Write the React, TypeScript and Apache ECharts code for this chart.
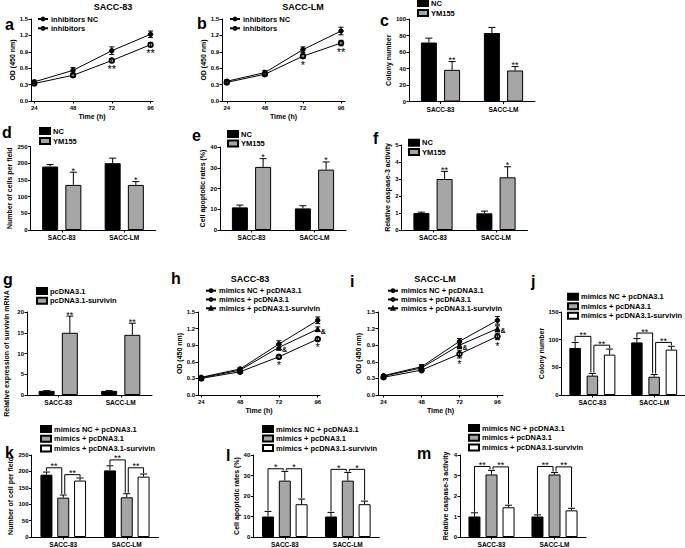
import { useEffect, useRef } from 'react';
import * as echarts from 'echarts';

const FONT = '"Liberation Sans", Arial, Helvetica, sans-serif';

// ---------- shared ----------
const timePoints = [24, 48, 72, 96];
const barCategories = ['SACC-83', 'SACC-LM'];

// ---------- a (SACC-83, inhibitors) ----------
const aNC = [0.35, 0.56, 0.92, 1.22];
const aNCErr = [0.03, 0.05, 0.07, 0.06];
const aInh = [0.32, 0.47, 0.74, 1.03];
const aInhErr = [0.03, 0.03, 0.04, 0.04];
const aInhMarks = ['', '', '**', '**'];

// ---------- b (SACC-LM, inhibitors) ----------
const bNC = [0.36, 0.52, 0.94, 1.28];
const bNCErr = [0.03, 0.04, 0.05, 0.07];
const bInh = [0.34, 0.49, 0.82, 1.06];
const bInhErr = [0.03, 0.03, 0.04, 0.05];
const bInhMarks = ['', '', '*', '**'];

// ---------- c colony number ----------
const cNC = [71.5, 83];
const cNCErr = [5.3, 6.8];
const cYM = [38.4, 37.6];
const cYMErr = [10, 4.8];
const cMarks = ['**', '**'];

// ---------- d cells per field ----------
const dNC = [190, 200];
const dNCErr = [6, 15];
const dYM = [135, 135];
const dYMErr = [38, 10];
const dMarks = ['*', '*'];

// ---------- e apoptotic rates ----------
const eNC = [10.9, 10.4];
const eNCErr = [1.1, 1.3];
const eYM = [30.4, 29.1];
const eYMErr = [4, 3.7];
const eMarks = ['*', '*'];

// ---------- f caspase-3 ----------
const fNC = [1.0, 0.98];
const fNCErr = [0.05, 0.13];
const fYM = [3.0, 3.1];
const fYMErr = [0.45, 0.62];
const fMarks = ['**', '*'];

// ---------- g survivin mRNA ----------
const gCtrl = [1, 1];
const gCtrlErr = [0.05, 0.05];
const gSurv = [15, 14.5];
const gSurvErr = [4, 2.8];
const gMarks = ['**', '**'];

// ---------- h (SACC-83, mimics) ----------
const hNC = [0.32, 0.47, 0.92, 1.35];
const hNCErr = [0.02, 0.03, 0.06, 0.06];
const hMim = [0.3, 0.42, 0.69, 1.01];
const hMimErr = [0.02, 0.02, 0.03, 0.03];
const hSurv = [0.31, 0.45, 0.86, 1.19];
const hSurvErr = [0.02, 0.03, 0.05, 0.04];
const hMimMarks = ['', '', '*', '*'];
const hSurvMarks = ['', '', '&', '&'];

// ---------- i (SACC-LM, mimics) ----------
const iNC = [0.35, 0.51, 0.97, 1.35];
const iNCErr = [0.02, 0.04, 0.05, 0.07];
const iMim = [0.32, 0.45, 0.74, 1.06];
const iMimErr = [0.02, 0.02, 0.07, 0.06];
const iSurv = [0.34, 0.49, 0.9, 1.2];
const iSurvErr = [0.02, 0.03, 0.06, 0.05];
const iMimMarks = ['', '', '*', '*'];
const iSurvMarks = ['', '', '&', '&'];

// ---------- j colony number ----------
const jNC = [85, 95];
const jNCErr = [10, 7];
const jMim = [35, 33];
const jMimErr = [4, 4];
const jSurv = [73, 82];
const jSurvErr = [10, 6];
const jBrackets = [[0, 0, 1, 106, '**'], [0, 1, 2, 90, '**'], [1, 0, 1, 112, '**'], [1, 1, 2, 95, '**']];

// ---------- k cells per field ----------
const kNC = [190, 203];
const kNCErr = [8, 14];
const kMim = [120, 121];
const kMimErr = [8, 11];
const kSurv = [172, 184];
const kSurvErr = [8, 8];
const kBrackets = [[0, 0, 1, 211, '**'], [0, 1, 2, 190, '**'], [1, 0, 1, 235, '**'], [1, 1, 2, 211, '**']];

// ---------- l apoptotic rates ----------
const lNC = [10, 10];
const lNCErr = [2.5, 2];
const lMim = [27.5, 27.5];
const lMimErr = [4.5, 4];
const lSurv = [16, 16];
const lSurvErr = [2.5, 1.5];
const lBrackets = [[0, 0, 1, 33.3, '*'], [0, 1, 2, 33.3, '*'], [1, 0, 1, 33, '*'], [1, 1, 2, 33, '*']];

// ---------- m caspase-3 ----------
const mNC = [1.0, 1.0];
const mNCErr = [0.18, 0.08];
const mMim = [3.05, 3.05];
const mMimErr = [0.2, 0.1];
const mSurv = [1.45, 1.3];
const mSurvErr = [0.1, 0.1];
const mBrackets = [[0, 0, 1, 3.44, '**'], [0, 1, 2, 3.42, '**'], [1, 0, 1, 3.44, '**'], [1, 1, 2, 3.42, '**']];

const BLACK = '#000000';
const GRAY = '#a6a6a6';
const WHITE = '#ffffff';

function buildOption() {
  const grid: any[] = [];
  const xAxis: any[] = [];
  const yAxis: any[] = [];
  const series: any[] = [];
  const legend: any[] = [];
  const graphic: any[] = [];

  const axisLine = { show: true, onZero: false, lineStyle: { color: '#000', width: 1 } };
  const tick = { show: true, length: 2.5, lineStyle: { color: '#000', width: 1 } };
  const label = { color: '#000', fontSize: 6, fontWeight: 'bold', fontFamily: FONT, margin: 3 };
  const nameStyle = { color: '#000', fontSize: 7, fontWeight: 'bold', fontFamily: FONT };
  const strip = (n: string) => n.split('|')[1];

  const txtStyle = (text: string, size: number, align: string, valign: string, bold = false) => ({
    text,
    fill: '#000000',
    font: `${bold ? 'bold ' : ''}${size}px ${FONT}`,
    align,
    verticalAlign: valign,
  });

  function errorSeries(idx: number, data: number[][], off: number, both: boolean, cap: number) {
    return {
      type: 'custom',
      xAxisIndex: idx,
      yAxisIndex: idx,
      silent: true,
      z: 4,
      itemStyle: { color: '#000' },
      data,
      renderItem: (_p: any, api: any) => {
        const x = api.value(0);
        const v = api.value(1);
        const e = api.value(2);
        const c = api.coord([x, v]);
        const t = api.coord([x, v + e]);
        const b = both ? api.coord([x, v - e]) : c;
        const px = c[0] + off;
        const ls = { stroke: '#000', lineWidth: 1 };
        const children: any[] = [
          { type: 'line', shape: { x1: px, y1: t[1], x2: px, y2: b[1] }, style: ls },
          { type: 'line', shape: { x1: px - cap, y1: t[1], x2: px + cap, y2: t[1] }, style: ls },
        ];
        if (both) children.push({ type: 'line', shape: { x1: px - cap, y1: b[1], x2: px + cap, y2: b[1] }, style: ls });
        return { type: 'group', children };
      },
    };
  }

  function markSeries(idx: number, data: number[][], texts: string[], off: number, where: string) {
    const items = data.map((d, i) => [d[0], d[1], d[2], i]).filter((d) => texts[d[3]]);
    return {
      type: 'custom',
      xAxisIndex: idx,
      yAxisIndex: idx,
      silent: true,
      z: 5,
      itemStyle: { color: '#000' },
      data: items,
      renderItem: (_p: any, api: any) => {
        const x = api.value(0);
        const v = api.value(1);
        const e = api.value(2);
        const t = texts[api.value(3)];
        if (where === 'above') {
          const p = api.coord([x, v + e]);
          return { type: 'text', x: p[0] + off, y: p[1] + 3, style: txtStyle(t, 9, 'center', 'bottom') };
        }
        if (where === 'below') {
          const p = api.coord([x, v - e]);
          return { type: 'text', x: p[0] + off, y: p[1] + 1, style: txtStyle(t, 11, 'center', 'top') };
        }
        const p = api.coord([x, v]);
        return { type: 'text', x: p[0] + 3, y: p[1] + 2, style: txtStyle(t, 7, 'left', 'middle', true) };
      },
    };
  }

  function addLegend(names: string[], left: number, firstRow: number, spacing: number, iw: number, ih: number, isBar: boolean) {
    const lh = 9;
    legend.push({
      orient: 'vertical',
      left,
      top: firstRow - lh / 2,
      padding: 0,
      itemGap: spacing - lh,
      itemWidth: iw,
      itemHeight: ih,
      selectedMode: false,
      icon: isBar ? 'rect' : undefined,
      data: names,
      formatter: strip,
      textStyle: { color: '#000', fontSize: 7.5, fontWeight: 'bold', fontFamily: FONT, lineHeight: lh, padding: [0, 0, 0, -2] },
    });
  }

  function linePanel(o: any) {
    const idx = grid.length;
    grid.push({ left: o.left, top: o.top, width: o.width, height: o.height });
    xAxis.push({
      gridIndex: idx,
      type: 'value',
      min: o.xMin,
      max: o.xMax,
      name: 'Time (h)',
      nameLocation: 'middle',
      nameGap: 12,
      nameTextStyle: nameStyle,
      axisLine,
      axisTick: { ...tick, customValues: timePoints },
      axisLabel: { ...label, margin: 4, customValues: timePoints },
      splitLine: { show: false },
    });
    yAxis.push({
      gridIndex: idx,
      type: 'value',
      min: 0,
      max: 1.5,
      interval: 0.3,
      name: 'OD (450 nm)',
      nameLocation: 'middle',
      nameGap: o.nameGap,
      nameTextStyle: nameStyle,
      axisLine,
      axisTick: tick,
      axisLabel: { ...label, formatter: (v: number) => v.toFixed(1) },
      splitLine: { show: false },
    });
    const names: string[] = [];
    o.lines.forEach((l: any) => {
      const name = o.key + '|' + l.label;
      names.push(name);
      const pts = l.values.map((v: number, i: number) => [timePoints[i], v, l.errs[i]]);
      series.push({
        type: 'line',
        name,
        xAxisIndex: idx,
        yAxisIndex: idx,
        data: l.values.map((v: number, i: number) => [timePoints[i], v]),
        symbol: l.symbol,
        symbolSize: l.symbol === 'triangle' ? 5 : 4.5,
        lineStyle: { color: '#000', width: 1 },
        itemStyle: { color: '#000', borderColor: '#000', borderWidth: 1 },
        z: 3,
      });
      series.push(errorSeries(idx, pts, 0, true, 2.5));
      if (l.marks) series.push(markSeries(idx, pts, l.marks, 0, l.markPos));
    });
    addLegend(names, o.legend[0], o.legend[1], o.legend[2], 10, 3.5, false);
  }

  function barPanel(o: any) {
    const idx = grid.length;
    grid.push({ left: o.left, top: o.top, width: o.width, height: o.height });
    xAxis.push({
      gridIndex: idx,
      type: 'category',
      data: barCategories,
      axisLine,
      axisTick: { ...tick, alignWithLabel: true },
      axisLabel: { ...label, fontSize: 6.5, margin: 4 },
      splitLine: { show: false },
    });
    yAxis.push({
      gridIndex: idx,
      type: 'value',
      min: 0,
      max: o.yMax,
      interval: o.yInterval,
      name: o.yName,
      nameLocation: 'middle',
      nameGap: o.nameGap,
      nameTextStyle: nameStyle,
      axisLine,
      axisTick: tick,
      axisLabel: label,
      splitLine: { show: false },
    });
    const n = o.bars.length;
    const w = o.barWidth;
    const gap = w * o.gapRatio;
    const total = n * w + (n - 1) * gap;
    const offs = o.bars.map((_b: any, k: number) => -total / 2 + k * (w + gap) + w / 2);
    const names: string[] = [];
    o.bars.forEach((b: any, k: number) => {
      const name = o.key + '|' + b.label;
      names.push(name);
      series.push({
        type: 'bar',
        name,
        xAxisIndex: idx,
        yAxisIndex: idx,
        data: b.values,
        barWidth: w,
        barGap: o.gapRatio * 100 + '%',
        itemStyle: { color: b.color, borderColor: '#000', borderWidth: 1 },
        z: 2,
      });
      const pts = b.values.map((v: number, i: number) => [i, v, b.errs[i]]);
      series.push(errorSeries(idx, pts, offs[k], false, 3.5));
      if (b.marks) series.push(markSeries(idx, pts, b.marks, offs[k], 'above'));
    });
    if (o.brackets) {
      const br = o.brackets;
      series.push({
        type: 'custom',
        xAxisIndex: idx,
        yAxisIndex: idx,
        silent: true,
        z: 5,
        itemStyle: { color: '#000' },
        data: br.map((b: any) => [b[0], b[3]]),
        renderItem: (p: any, api: any) => {
          const b = br[p.dataIndex];
          const cat = b[0];
          const ia = b[1];
          const ib = b[2];
          const base = api.coord([cat, b[3]]);
          const xa = base[0] + offs[ia] + (ia === 1 ? 1.5 : 0);
          const xb = base[0] + offs[ib] - (ib === 1 ? 1.5 : 0);
          const ya = api.coord([cat, o.bars[ia].values[cat] + o.bars[ia].errs[cat]])[1] - 1;
          const yb = api.coord([cat, o.bars[ib].values[cat] + o.bars[ib].errs[cat]])[1] - 1;
          return {
            type: 'group',
            children: [
              {
                type: 'polyline',
                shape: { points: [[xa, ya], [xa, base[1]], [xb, base[1]], [xb, yb]] },
                style: { stroke: '#000', fill: null, lineWidth: 1 },
              },
              { type: 'text', x: (xa + xb) / 2, y: base[1] + 3, style: txtStyle(b[4], 9, 'center', 'bottom') },
            ],
          };
        },
      });
    }
    addLegend(names, o.legend[0], o.legend[1], o.legend[2], 10, 6, true);
  }

  // ---- a ----
  linePanel({
    key: 'a', left: 31, top: 19, width: 122, height: 82, xMin: 22, xMax: 97.5, nameGap: 15,
    legend: [37, 19, 9.3],
    lines: [
      { label: 'inhibitors NC', values: aNC, errs: aNCErr, symbol: 'circle' },
      { label: 'inhibitors', values: aInh, errs: aInhErr, symbol: 'emptyCircle', marks: aInhMarks, markPos: 'below' },
    ],
  });
  // ---- b ----
  linePanel({
    key: 'b', left: 222, top: 19, width: 123, height: 82, xMin: 21, xMax: 98.5, nameGap: 13,
    legend: [229, 19, 9.3],
    lines: [
      { label: 'inhibitors NC', values: bNC, errs: bNCErr, symbol: 'circle' },
      { label: 'inhibitors', values: bInh, errs: bInhErr, symbol: 'emptyCircle', marks: bInhMarks, markPos: 'below' },
    ],
  });
  // ---- c ----
  barPanel({
    key: 'c', left: 409, top: 19, width: 126, height: 82.5, yMax: 100, yInterval: 20, yName: 'Colony number', nameGap: 17,
    barWidth: 16, gapRatio: 0.45, legend: [417, 3, 10],
    bars: [
      { label: 'NC', values: cNC, errs: cNCErr, color: BLACK },
      { label: 'YM155', values: cYM, errs: cYMErr, color: GRAY, marks: cMarks },
    ],
  });
  // ---- d ----
  barPanel({
    key: 'd', left: 30.5, top: 146.5, width: 125, height: 83.5, yMax: 250, yInterval: 50, yName: 'Number of cells per field', nameGap: 18,
    barWidth: 16, gapRatio: 0.45, legend: [39, 131, 10],
    bars: [
      { label: 'NC', values: dNC, errs: dNCErr, color: BLACK },
      { label: 'YM155', values: dYM, errs: dYMErr, color: GRAY, marks: dMarks },
    ],
  });
  // ---- e ----
  barPanel({
    key: 'e', left: 220, top: 147, width: 126, height: 83, yMax: 40, yInterval: 10, yName: 'Cell apoptotic rates (%)', nameGap: 13,
    barWidth: 16, gapRatio: 0.45, legend: [227, 134, 9.5],
    bars: [
      { label: 'NC', values: eNC, errs: eNCErr, color: BLACK },
      { label: 'YM155', values: eYM, errs: eYMErr, color: GRAY, marks: eMarks },
    ],
  });
  // ---- f ----
  barPanel({
    key: 'f', left: 401.5, top: 145, width: 126, height: 85, yMax: 5, yInterval: 1, yName: 'Relative caspase-3 activity', nameGap: 10,
    barWidth: 16, gapRatio: 0.45, legend: [408, 142.7, 9.3],
    bars: [
      { label: 'NC', values: fNC, errs: fNCErr, color: BLACK },
      { label: 'YM155', values: fYM, errs: fYMErr, color: GRAY, marks: fMarks },
    ],
  });
  // ---- g ----
  barPanel({
    key: 'g', left: 27, top: 312, width: 125, height: 83, yMax: 20, yInterval: 5, yName: 'Relative expression of survivin mRNA', nameGap: 17,
    barWidth: 16, gapRatio: 0.45, legend: [36, 291, 9.7],
    bars: [
      { label: 'pcDNA3.1', values: gCtrl, errs: gCtrlErr, color: BLACK },
      { label: 'pcDNA3.1-survivin', values: gSurv, errs: gSurvErr, color: GRAY, marks: gMarks },
    ],
  });
  // ---- h ----
  linePanel({
    key: 'h', left: 198, top: 312, width: 122, height: 83, xMin: 22, xMax: 97.4, nameGap: 14,
    legend: [205, 290.7, 8.8],
    lines: [
      { label: 'mimics NC + pcDNA3.1', values: hNC, errs: hNCErr, symbol: 'circle' },
      { label: 'mimics + pcDNA3.1', values: hMim, errs: hMimErr, symbol: 'emptyCircle', marks: hMimMarks, markPos: 'below' },
      { label: 'mimics + pcDNA3.1-survivin', values: hSurv, errs: hSurvErr, symbol: 'triangle', marks: hSurvMarks, markPos: 'right' },
    ],
  });
  // ---- i ----
  linePanel({
    key: 'i', left: 378, top: 312, width: 125, height: 83, xMin: 20.5, xMax: 99.5, nameGap: 16,
    legend: [387, 290.7, 8.8],
    lines: [
      { label: 'mimics NC + pcDNA3.1', values: iNC, errs: iNCErr, symbol: 'circle' },
      { label: 'mimics + pcDNA3.1', values: iMim, errs: iMimErr, symbol: 'emptyCircle', marks: iMimMarks, markPos: 'below' },
      { label: 'mimics + pcDNA3.1-survivin', values: iSurv, errs: iSurvErr, symbol: 'triangle', marks: iSurvMarks, markPos: 'right' },
    ],
  });
  // ---- j ----
  barPanel({
    key: 'j', left: 561.5, top: 312, width: 124, height: 83, yMax: 150, yInterval: 50, yName: 'Colony number', nameGap: 17,
    barWidth: 11.5, gapRatio: 0.5, legend: [567, 296.7, 9.5], brackets: jBrackets,
    bars: [
      { label: 'mimics NC + pcDNA3.1', values: jNC, errs: jNCErr, color: BLACK },
      { label: 'mimics + pcDNA3.1', values: jMim, errs: jMimErr, color: GRAY },
      { label: 'mimics + pcDNA3.1-survivin', values: jSurv, errs: jSurvErr, color: WHITE },
    ],
  });
  // ---- k ----
  barPanel({
    key: 'k', left: 31.5, top: 455, width: 127, height: 83.3, yMax: 250, yInterval: 50, yName: 'Number of cell per field', nameGap: 18,
    barWidth: 12, gapRatio: 0.4, legend: [40, 429, 9.7], brackets: kBrackets,
    bars: [
      { label: 'mimics NC + pcDNA3.1', values: kNC, errs: kNCErr, color: BLACK },
      { label: 'mimics + pcDNA3.1', values: kMim, errs: kMimErr, color: GRAY },
      { label: 'mimics + pcDNA3.1-survivin', values: kSurv, errs: kSurvErr, color: WHITE },
    ],
  });
  // ---- l ----
  barPanel({
    key: 'l', left: 253.3, top: 455, width: 126, height: 83.3, yMax: 40, yInterval: 10, yName: 'Cell apoptotic rates (%)', nameGap: 13,
    barWidth: 12, gapRatio: 0.4, legend: [262, 429, 9.5], brackets: lBrackets,
    bars: [
      { label: 'mimics NC + pcDNA3.1', values: lNC, errs: lNCErr, color: BLACK },
      { label: 'mimics + pcDNA3.1', values: lMim, errs: lMimErr, color: GRAY },
      { label: 'mimics + pcDNA3.1-survivin', values: lSurv, errs: lSurvErr, color: WHITE },
    ],
  });
  // ---- m ----
  barPanel({
    key: 'm', left: 460, top: 455, width: 126, height: 83.3, yMax: 4, yInterval: 1, yName: 'Relative caspase-3 activity', nameGap: 11,
    barWidth: 12, gapRatio: 0.42, legend: [468, 428, 9.8], brackets: mBrackets,
    bars: [
      { label: 'mimics NC + pcDNA3.1', values: mNC, errs: mNCErr, color: BLACK },
      { label: 'mimics + pcDNA3.1', values: mMim, errs: mMimErr, color: GRAY },
      { label: 'mimics + pcDNA3.1-survivin', values: mSurv, errs: mSurvErr, color: WHITE },
    ],
  });

  // panel letters
  const letters: [string, number, number][] = [
    ['a', 5, 29], ['b', 197, 28], ['c', 380, 25], ['d', 2, 137], ['e', 192, 140], ['f', 373, 143],
    ['g', 3, 284], ['h', 171, 283], ['i', 350, 286], ['j', 531, 286], ['k', 5, 457], ['l', 226, 460], ['m', 417, 458],
  ];
  letters.forEach(([t, x, y]) => {
    graphic.push({ type: 'text', x, y: y + 3, style: txtStyle(t, 16, 'left', 'bottom', true) });
  });
  // panel titles
  const titles: [string, number, number][] = [
    ['SACC-83', 113, 7], ['SACC-LM', 303, 7], ['SACC-83', 250, 279], ['SACC-LM', 435, 279],
  ];
  titles.forEach(([t, x, y]) => {
    graphic.push({ type: 'text', x, y, style: txtStyle(t, 9, 'center', 'middle', true) });
  });

  return {
    animation: false,
    color: ['#000000'],
    backgroundColor: '#ffffff',
    textStyle: { fontFamily: FONT, color: '#000' },
    grid,
    xAxis,
    yAxis,
    series,
    legend,
    graphic,
  };
}

export default function App() {
  const ref = useRef<HTMLDivElement>(null);
  useEffect(() => {
    if (!ref.current) return;
    const chart = echarts.init(ref.current, null, { renderer: 'svg' });
    chart.setOption(buildOption() as any);
    return () => chart.dispose();
  }, []);
  return (
    <div
      ref={ref}
      style={{ position: 'fixed', left: 0, top: 0, width: 685, height: 548, background: '#fff' }}
    />
  );
}
